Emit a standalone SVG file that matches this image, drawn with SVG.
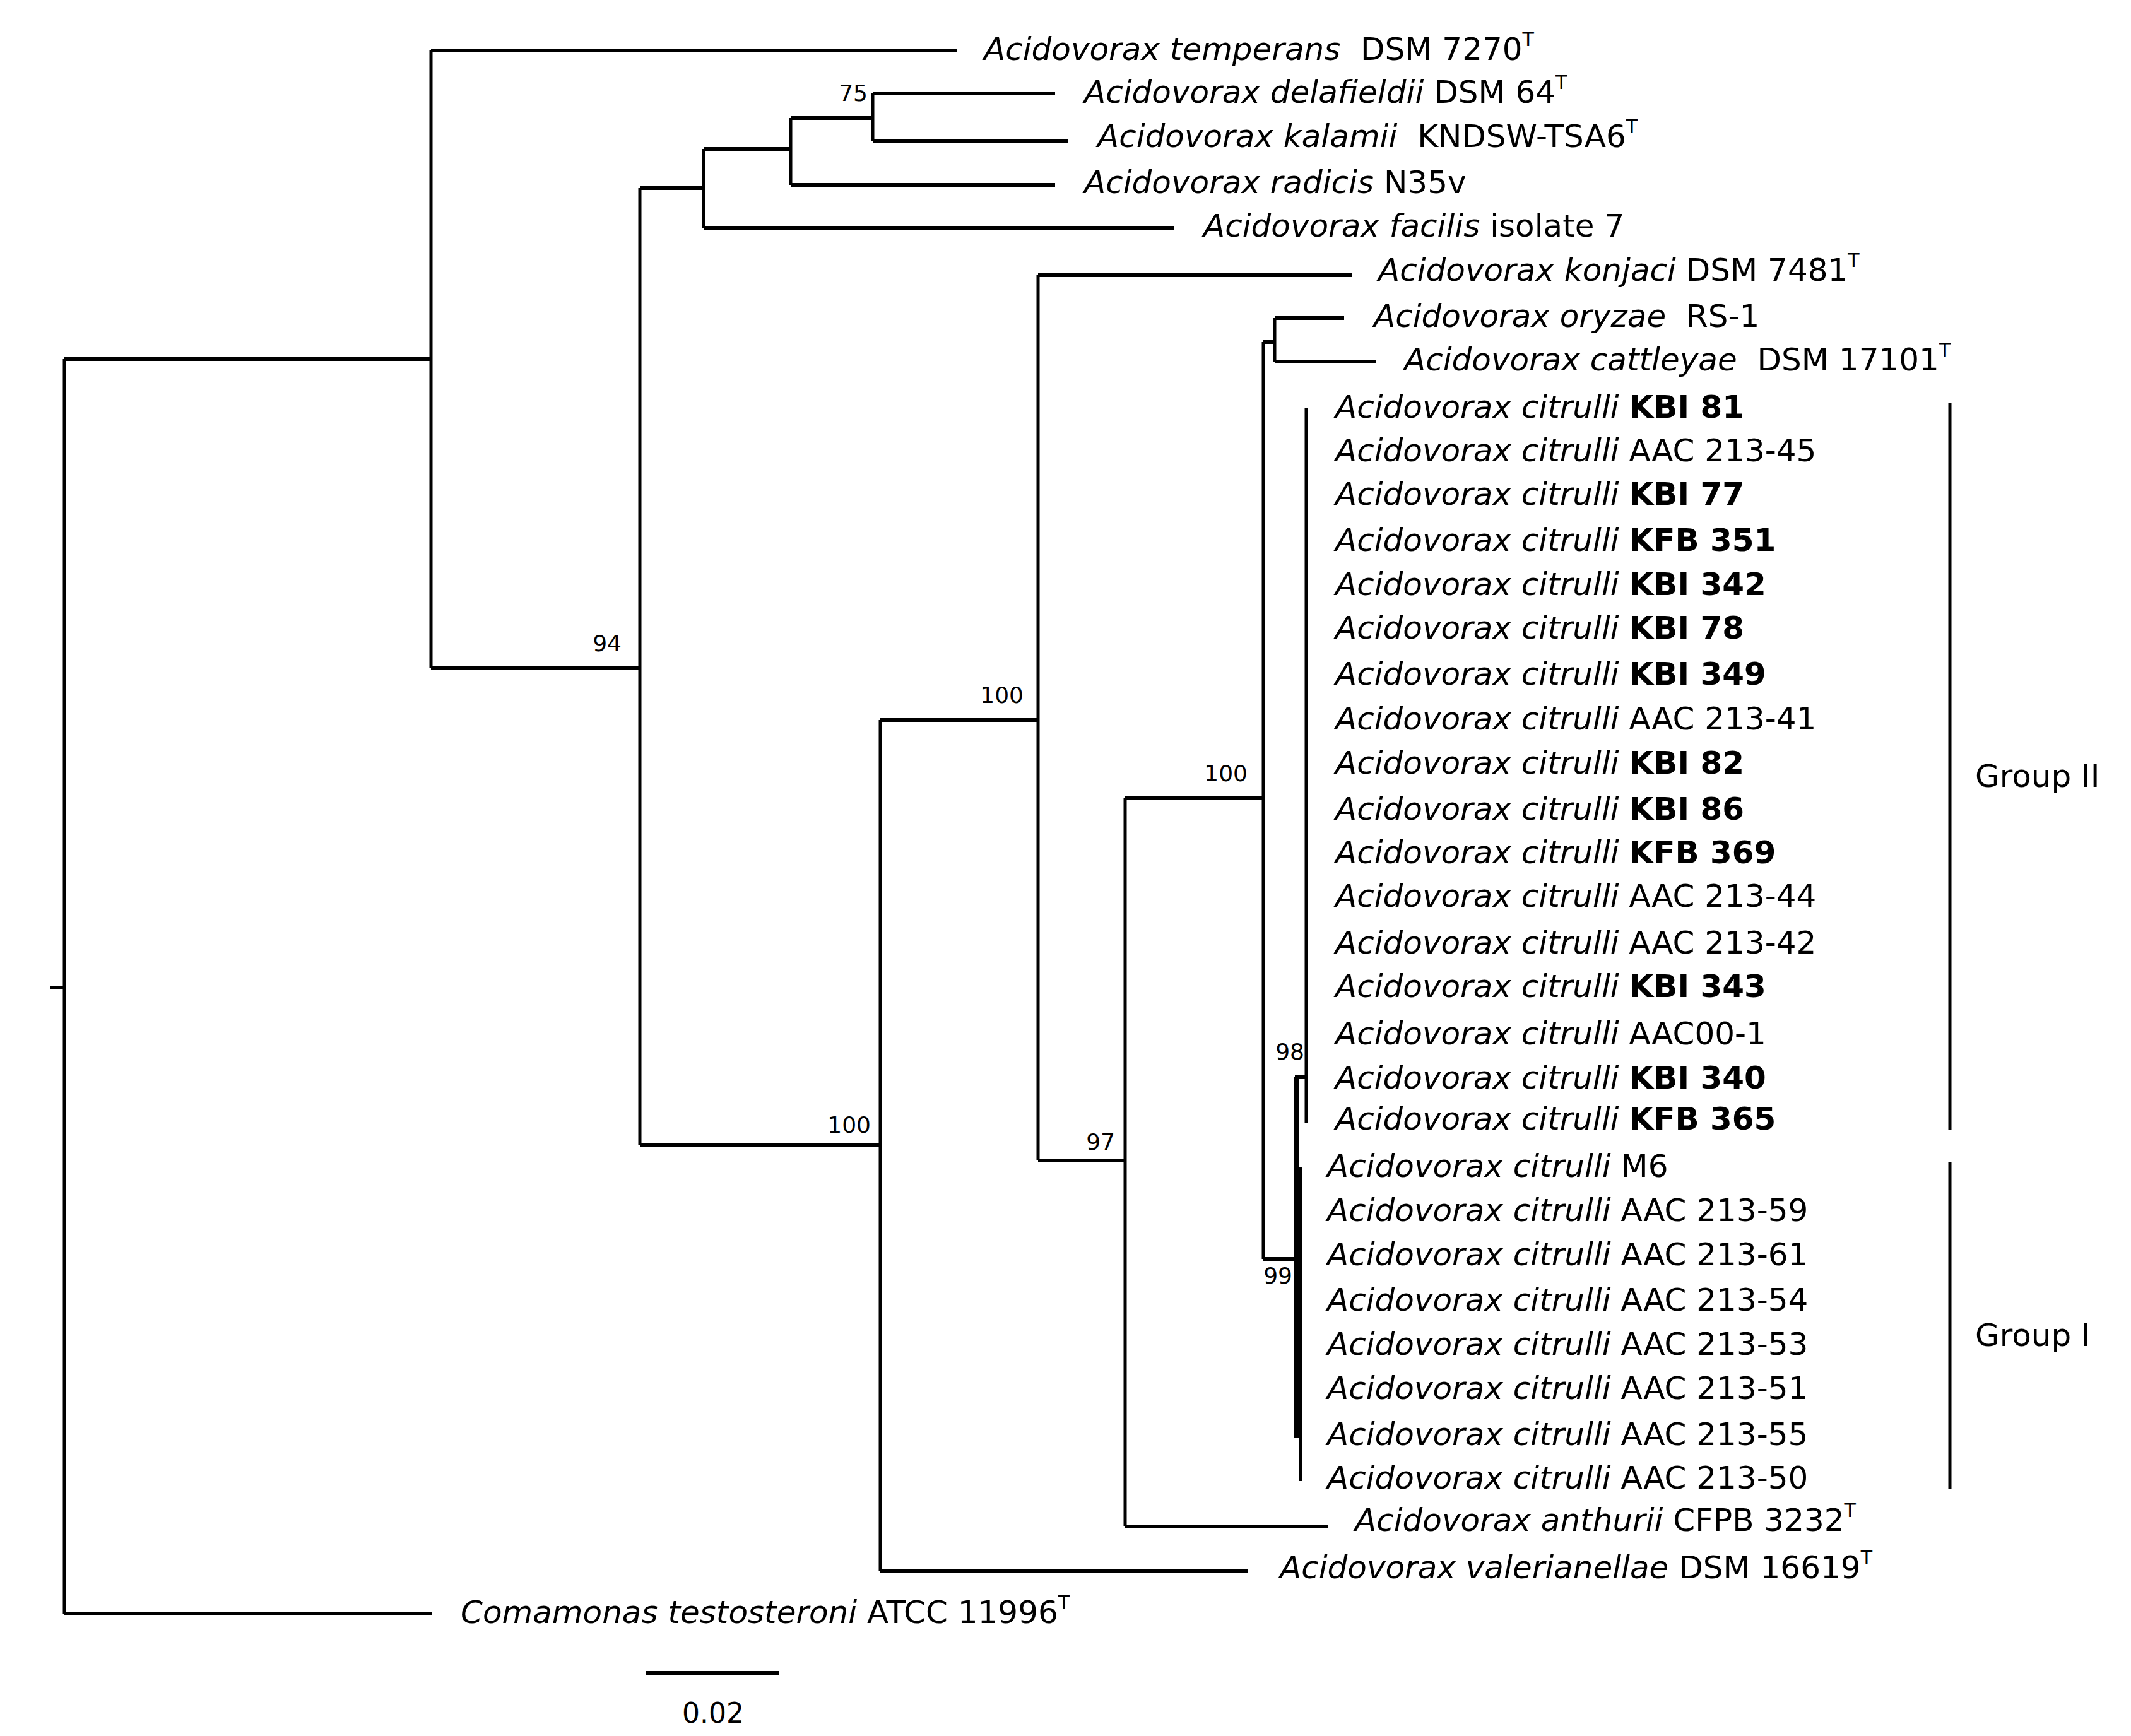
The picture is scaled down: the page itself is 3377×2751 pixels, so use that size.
<svg xmlns="http://www.w3.org/2000/svg" width="3377" height="2751" viewBox="0 0 3377 2751">
<style>
.h{stroke:#000;stroke-width:6;fill:none}
.v{stroke:#000;stroke-width:5;fill:none}
text{font-family:"DejaVu Sans",Verdana,sans-serif;fill:#000;white-space:pre}
.lab{font-size:50px}
.i{font-style:italic}
.b{font-weight:bold}
.sup{font-size:30px}
.bs{font-size:36px;text-anchor:end}
</style>
<rect width="3377" height="2751" fill="#fff"/>
<g id="connectors">
<path class="h" d="M80 1565H102M102 569H683M102 2557H685M683 80H1516M683 1059H1014M1014 298H1115M1014 1814H1395M1115 236H1253M1115 361H1861M1253 187H1383M1253 293H1672M1383 148H1672M1383 224H1692M1395 1141H1645M1395 2489H1978M1645 436H2142M1645 1839H1783M1783 1265H2002M1783 2419H2105M2002 542H2020M2002 1995H2052M2020 504H2130M2020 573H2180M2052 1707H2070M1024 2651H1235"/>
<path class="v" d="M102 569V2557M683 80V1059M1014 298V1814M1115 236V361M1253 187V293M1383 148V224M1395 1141V2489M1645 436V1839M1783 1265V2419M2002 542V1995M2020 504V573M2070 646V1779M3090 639V1791M3090 1842V2360"/>
<path stroke="#000" stroke-width="8" fill="none" d="M2055 1707V2278"/>
<path stroke="#000" stroke-width="5" fill="none" d="M2061 1850V2347"/>
</g>
<g id="bootstrap">
<text class="bs" x="1375" y="160">75</text>
<text class="bs" x="985" y="1032">94</text>
<text class="bs" x="1380" y="1795">100</text>
<text class="bs" x="1622" y="1114">100</text>
<text class="bs" x="1977" y="1238">100</text>
<text class="bs" x="1767" y="1822">97</text>
<text class="bs" x="2067" y="1679">98</text>
<text class="bs" x="2048" y="2034">99</text>
</g>
<g id="leaf-temperans"><text class="lab" x="1559" y="95" xml:space="preserve"><tspan class="i">Acidovorax temperans</tspan>  DSM 7270<tspan class="sup" dy="-22">T</tspan></text></g>
<g id="leaf-delafieldii"><text class="lab" x="1718" y="163"><tspan class="i">Acidovorax delafieldii</tspan> DSM 64<tspan class="sup" dy="-22">T</tspan></text></g>
<g id="leaf-kalamii"><text class="lab" x="1739" y="233" xml:space="preserve"><tspan class="i">Acidovorax kalamii</tspan>  KNDSW-TSA6<tspan class="sup" dy="-22">T</tspan></text></g>
<g id="leaf-radicis"><text class="lab" x="1718" y="306"><tspan class="i">Acidovorax radicis</tspan> N35v</text></g>
<g id="leaf-facilis"><text class="lab" x="1907" y="375"><tspan class="i">Acidovorax facilis</tspan> isolate 7</text></g>
<g id="leaf-konjaci"><text class="lab" x="2184" y="445"><tspan class="i">Acidovorax konjaci</tspan> DSM 7481<tspan class="sup" dy="-22">T</tspan></text></g>
<g id="leaf-oryzae"><text class="lab" x="2177" y="518" xml:space="preserve"><tspan class="i">Acidovorax oryzae</tspan>  RS-1</text></g>
<g id="leaf-cattleyae"><text class="lab" x="2225" y="587" xml:space="preserve"><tspan class="i">Acidovorax cattleyae</tspan>  DSM 17101<tspan class="sup" dy="-22">T</tspan></text></g>
<g id="group2-leaves">
<text class="lab" x="2116" y="662"><tspan class="i">Acidovorax citrulli</tspan> <tspan class="b">KBI 81</tspan></text>
<text class="lab" x="2116" y="731"><tspan class="i">Acidovorax citrulli</tspan> AAC 213-45</text>
<text class="lab" x="2116" y="800"><tspan class="i">Acidovorax citrulli</tspan> <tspan class="b">KBI 77</tspan></text>
<text class="lab" x="2116" y="873"><tspan class="i">Acidovorax citrulli</tspan> <tspan class="b">KFB 351</tspan></text>
<text class="lab" x="2116" y="943"><tspan class="i">Acidovorax citrulli</tspan> <tspan class="b">KBI 342</tspan></text>
<text class="lab" x="2116" y="1012"><tspan class="i">Acidovorax citrulli</tspan> <tspan class="b">KBI 78</tspan></text>
<text class="lab" x="2116" y="1085"><tspan class="i">Acidovorax citrulli</tspan> <tspan class="b">KBI 349</tspan></text>
<text class="lab" x="2116" y="1156"><tspan class="i">Acidovorax citrulli</tspan> AAC 213-41</text>
<text class="lab" x="2116" y="1226"><tspan class="i">Acidovorax citrulli</tspan> <tspan class="b">KBI 82</tspan></text>
<text class="lab" x="2116" y="1299"><tspan class="i">Acidovorax citrulli</tspan> <tspan class="b">KBI 86</tspan></text>
<text class="lab" x="2116" y="1368"><tspan class="i">Acidovorax citrulli</tspan> <tspan class="b">KFB 369</tspan></text>
<text class="lab" x="2116" y="1437"><tspan class="i">Acidovorax citrulli</tspan> AAC 213-44</text>
<text class="lab" x="2116" y="1511"><tspan class="i">Acidovorax citrulli</tspan> AAC 213-42</text>
<text class="lab" x="2116" y="1580"><tspan class="i">Acidovorax citrulli</tspan> <tspan class="b">KBI 343</tspan></text>
<text class="lab" x="2116" y="1655"><tspan class="i">Acidovorax citrulli</tspan> AAC00-1</text>
<text class="lab" x="2116" y="1725"><tspan class="i">Acidovorax citrulli</tspan> <tspan class="b">KBI 340</tspan></text>
<text class="lab" x="2116" y="1790"><tspan class="i">Acidovorax citrulli</tspan> <tspan class="b">KFB 365</tspan></text>
</g>
<g id="group1-leaves">
<text class="lab" x="2103" y="1865"><tspan class="i">Acidovorax citrulli</tspan> M6</text>
<text class="lab" x="2103" y="1935"><tspan class="i">Acidovorax citrulli</tspan> AAC 213-59</text>
<text class="lab" x="2103" y="2005"><tspan class="i">Acidovorax citrulli</tspan> AAC 213-61</text>
<text class="lab" x="2103" y="2077"><tspan class="i">Acidovorax citrulli</tspan> AAC 213-54</text>
<text class="lab" x="2103" y="2147"><tspan class="i">Acidovorax citrulli</tspan> AAC 213-53</text>
<text class="lab" x="2103" y="2217"><tspan class="i">Acidovorax citrulli</tspan> AAC 213-51</text>
<text class="lab" x="2103" y="2290"><tspan class="i">Acidovorax citrulli</tspan> AAC 213-55</text>
<text class="lab" x="2103" y="2359"><tspan class="i">Acidovorax citrulli</tspan> AAC 213-50</text>
</g>
<g id="leaf-anthurii"><text class="lab" x="2147" y="2426"><tspan class="i">Acidovorax anthurii</tspan> CFPB 3232<tspan class="sup" dy="-22">T</tspan></text></g>
<g id="leaf-valerianellae"><text class="lab" x="2028" y="2501"><tspan class="i">Acidovorax valerianellae</tspan> DSM 16619<tspan class="sup" dy="-22">T</tspan></text></g>
<g id="leaf-comamonas"><text class="lab" x="730" y="2572"><tspan class="i">Comamonas testosteroni</tspan> ATCC 11996<tspan class="sup" dy="-22">T</tspan></text></g>
<g id="group-labels">
<text class="lab" x="3130" y="1247">Group II</text>
<text class="lab" x="3130" y="2133">Group I</text>
</g>
<g id="scale"><text x="1130" y="2730" font-size="44" text-anchor="middle">0.02</text></g>
</svg>
